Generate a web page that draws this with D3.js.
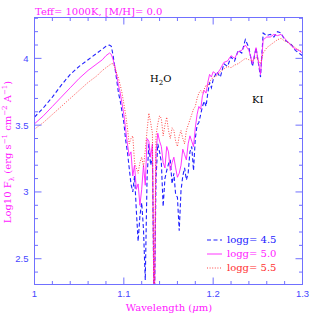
<!DOCTYPE html><html lang="en">
<head>
  <meta charset="UTF-8">
  <title>Teff 1000K spectra</title>
  <script src="https://d3js.org/d3.v7.min.js"></script>
  <style>
    body { margin: 0; background: white; }
    svg { display: block; }
    .tick-label { font-family: "Liberation Sans", Arial, sans-serif; font-size: 9.5px; fill: #4646ff; }
    .serif { font-family: "DejaVu Serif", "Liberation Serif", serif; }
  </style>
</head>
<body>
<svg width="319" height="319"></svg>
<script>
// wavelength grid (micron)
const wavelength = [
  1.000, 1.010, 1.020, 1.030, 1.040, 1.050, 1.060, 1.070, 1.076, 1.080, 1.084,
  1.086, 1.088, 1.090, 1.092, 1.094, 1.096, 1.098, 1.100, 1.102, 1.104, 1.106, 1.108,
  1.110, 1.112, 1.114, 1.116, 1.118, 1.120, 1.122, 1.124, 1.126, 1.128, 1.130, 1.132,
  1.134, 1.136, 1.138, 1.140, 1.142, 1.144, 1.146, 1.148, 1.150, 1.152, 1.154, 1.156,
  1.158, 1.160, 1.162, 1.164, 1.166, 1.168, 1.170, 1.172, 1.174, 1.176, 1.178, 1.180,
  1.182, 1.184, 1.186, 1.188, 1.190, 1.192, 1.194, 1.196, 1.198, 1.200,
  1.204, 1.208, 1.212, 1.216, 1.220, 1.224, 1.228, 1.232, 1.236, 1.240, 1.244, 1.248,
  1.253, 1.256, 1.260, 1.264, 1.268, 1.272, 1.276, 1.280, 1.284, 1.288, 1.292, 1.296, 1.300
];

// log10 F_lambda for logg = 4.5
const fluxLogg45 = [
  3.56, 3.63, 3.71, 3.80, 3.88, 3.94, 3.99, 4.04, 4.07, 4.09, 4.10,
  4.09, 4.02, 3.93, 3.84, 3.74, 3.68, 3.60, 3.52, 3.39, 3.30, 3.18, 3.06,
  3.00, 3.12, 2.86, 2.63, 2.82, 2.92, 2.72, 2.34, 3.10, 3.36, 3.20, 3.26,
  2.00, 3.10, 3.36, 3.30, 3.22, 2.89, 3.10, 3.16, 3.21, 3.24, 3.06, 3.14,
  2.98, 2.96, 2.71, 3.01, 3.12, 3.18, 3.09, 3.14, 3.30, 3.34, 3.16, 3.40,
  3.50, 3.52, 3.58, 3.64, 3.68, 3.64, 3.74, 3.82, 3.78, 3.84,
  3.90, 3.86, 3.96, 3.94, 4.01, 3.98, 4.06, 4.04, 4.14, 4.08, 3.94, 4.08,
  3.86, 4.19, 4.17, 4.18, 4.16, 4.20, 4.19, 4.14, 4.12, 4.10, 4.06, 4.04, 4.02
];

// log10 F_lambda for logg = 5.0
const fluxLogg50 = [
  3.51, 3.57, 3.64, 3.71, 3.78, 3.85, 3.91, 3.96, 3.99, 4.02, 4.04,
  4.03, 3.99, 3.94, 3.87, 3.80, 3.74, 3.66, 3.58, 3.47, 3.36, 3.27, 3.30,
  3.12, 3.20, 3.02, 3.06, 2.90, 3.02, 3.20, 3.05, 3.40, 3.38, 3.26, 3.36,
  2.00, 3.30, 3.44, 3.38, 3.34, 3.22, 3.18, 3.34, 3.30, 3.16, 3.22, 3.26,
  3.18, 3.11, 3.14, 3.20, 3.32, 3.28, 3.24, 3.36, 3.42, 3.38, 3.34, 3.48,
  3.58, 3.64, 3.62, 3.72, 3.76, 3.74, 3.82, 3.88, 3.86, 3.90,
  3.88, 3.92, 3.97, 3.98, 4.02, 4.00, 4.05, 4.06, 4.10, 4.06, 3.96, 4.08,
  3.88, 4.14, 4.16, 4.16, 4.18, 4.17, 4.18, 4.15, 4.12, 4.09, 4.07, 4.06, 4.04
];

// log10 F_lambda for logg = 5.5
const fluxLogg55 = [
  3.47, 3.52, 3.58, 3.64, 3.70, 3.76, 3.82, 3.87, 3.91, 3.93, 3.95,
  3.96, 3.96, 3.93, 3.89, 3.85, 3.80, 3.74, 3.66, 3.58, 3.48, 3.36, 3.40,
  3.42, 3.22, 3.18, 3.14, 3.22, 3.26, 3.19, 3.31, 3.46, 3.59, 3.52, 3.44,
  2.00, 3.42, 3.51, 3.57, 3.55, 3.42, 3.50, 3.56, 3.46, 3.40, 3.48, 3.46,
  3.38, 3.34, 3.42, 3.46, 3.40, 3.36, 3.46, 3.50, 3.54, 3.58, 3.62, 3.64,
  3.70, 3.74, 3.76, 3.74, 3.77, 3.80, 3.79, 3.83, 3.84, 3.86,
  3.87, 3.90, 3.92, 3.94, 3.93, 3.95, 3.96, 3.98, 4.00, 3.99, 3.98, 4.01,
  3.96, 4.04, 4.08, 4.10, 4.12, 4.14, 4.15, 4.13, 4.12, 4.10, 4.08, 4.06, 4.05
];

const seriesLabels = ["logg= 4.5", "logg= 5.0", "logg= 5.5"];
const xMajorTicks = [1, 1.1, 1.2, 1.3];
const yMajorTicks = [2.5, 3, 3.5, 4];

const svg = d3.select("svg");
const pLeft = 34.5, pRight = 302.5, pTop = 17.5, pBottom = 284.5;

const x = d3.scaleLinear().domain([1, 1.3]).range([pLeft, pRight]);
const y = d3.scaleLinear().domain([2.307, 4.306]).range([pBottom, pTop]);

const axisColor = "#7070ff";

svg.append("clipPath").attr("id", "plot")
  .append("rect").attr("x", pLeft).attr("y", pTop)
  .attr("width", pRight - pLeft).attr("height", pBottom - pTop);

// spectra
const series = [
  { values: fluxLogg45, color: "#2020ff", dash: "4,2.5", width: 1.1 },
  { values: fluxLogg50, color: "#ff20ff", dash: null, width: 0.9 },
  { values: fluxLogg55, color: "#ff3030", dash: "1,1.6", width: 0.9 }
];

const line = d3.line().x((d, i) => x(wavelength[i])).y(d => y(d));

series.forEach(s => {
  svg.append("path")
    .datum(s.values)
    .attr("clip-path", "url(#plot)")
    .attr("fill", "none")
    .attr("stroke", s.color)
    .attr("stroke-width", s.width)
    .attr("stroke-dasharray", s.dash)
    .attr("d", line);
});

// frame
svg.append("rect")
  .attr("x", pLeft).attr("y", pTop)
  .attr("width", pRight - pLeft).attr("height", pBottom - pTop)
  .attr("fill", "none").attr("stroke", axisColor).attr("stroke-width", 1);

// ticks on all four sides, pointing inward
const xMinor = d3.range(0, 16).map(i => 1 + i * 0.02);
const yMinor = d3.range(0, 20).map(i => 2.4 + i * 0.1).filter(v => v >= 2.307 && v <= 4.306);
const isMajor = (v, step) => Math.abs(v / step - Math.round(v / step)) < 1e-6;

const ticks = svg.append("g").attr("stroke", axisColor).attr("stroke-width", 1);
xMinor.forEach(v => {
  const len = isMajor(v, 0.1) ? 7 : 3.5;
  ticks.append("line").attr("x1", x(v)).attr("x2", x(v)).attr("y1", pBottom).attr("y2", pBottom - len);
  ticks.append("line").attr("x1", x(v)).attr("x2", x(v)).attr("y1", pTop).attr("y2", pTop + len);
});
yMinor.forEach(v => {
  const len = isMajor(v, 0.5) ? 7 : 3.5;
  ticks.append("line").attr("x1", pLeft).attr("x2", pLeft + len).attr("y1", y(v)).attr("y2", y(v));
  ticks.append("line").attr("x1", pRight).attr("x2", pRight - len).attr("y1", y(v)).attr("y2", y(v));
});

// tick labels
svg.selectAll("text.xt").data(xMajorTicks).enter().append("text")
  .attr("class", "tick-label")
  .attr("x", d => x(d)).attr("y", 297)
  .attr("text-anchor", "middle")
  .text(d => d3.format("")(d));

svg.selectAll("text.yt").data(yMajorTicks).enter().append("text")
  .attr("class", "tick-label")
  .attr("x", 28.5).attr("y", d => y(d) + 3.5)
  .attr("text-anchor", "end")
  .text(d => d3.format("")(d));

// title
svg.append("text").attr("class", "serif")
  .attr("x", 35).attr("y", 14.5)
  .attr("font-size", 10).attr("fill", "#ff20ff")
  .text("Teff= 1000K, [M/H]= 0.0");

// x label
const xl = svg.append("text").attr("class", "serif")
  .attr("x", 169).attr("y", 310.5)
  .attr("text-anchor", "middle")
  .attr("font-size", 10).attr("fill", "#ff20ff");
xl.append("tspan").text("Wavelength (");
xl.append("tspan").attr("font-style", "italic").text("\u03bc");
xl.append("tspan").text("m)");

// y label
const yl = svg.append("text").attr("class", "serif")
  .attr("transform", "translate(11,152) rotate(-90)")
  .attr("text-anchor", "middle")
  .attr("font-size", 10).attr("fill", "#ff20ff");
yl.append("tspan").text("Log10 F");
yl.append("tspan").attr("font-size", 7).attr("dy", 2.5).text("\u03bb");
yl.append("tspan").attr("dy", -2.5).text(" (erg s");
yl.append("tspan").attr("font-size", 7).attr("dy", -4).text("\u22121");
yl.append("tspan").attr("dy", 4).text(" cm");
yl.append("tspan").attr("font-size", 7).attr("dy", -4).text("\u22122");
yl.append("tspan").attr("dy", 4).text(" A");
yl.append("tspan").attr("font-size", 7).attr("dy", -4).text("\u22121");
yl.append("tspan").attr("dy", 4).text(")");

// annotations
const h2o = svg.append("text").attr("class", "serif")
  .attr("x", 150).attr("y", 82).attr("font-size", 10).attr("fill", "#000");
h2o.append("tspan").text("H");
h2o.append("tspan").attr("font-size", 7).attr("dy", 2.5).text("2");
h2o.append("tspan").attr("dy", -2.5).text("O");

svg.append("text").attr("class", "serif")
  .attr("x", 252).attr("y", 103).attr("font-size", 10).attr("fill", "#000")
  .text("KI");

// legend
const legendY = [243, 257, 271];
series.forEach((s, i) => {
  svg.append("line")
    .attr("x1", 207).attr("x2", 222)
    .attr("y1", legendY[i] - 3).attr("y2", legendY[i] - 3)
    .attr("stroke", s.color).attr("stroke-width", s.width)
    .attr("stroke-dasharray", s.dash);
  svg.append("text").attr("class", "serif")
    .attr("x", 227).attr("y", legendY[i])
    .attr("font-size", 10).attr("fill", s.color)
    .text(seriesLabels[i]);
});
</script>
</body>
</html>
